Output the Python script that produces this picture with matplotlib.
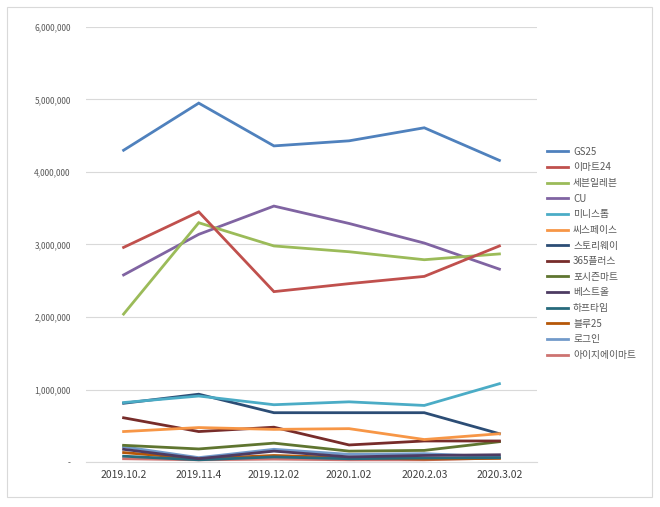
import matplotlib.pyplot as plt
from matplotlib.patches import Rectangle
from matplotlib.ticker import FuncFormatter

plt.rcParams['font.family'] = ['Noto Sans CJK KR', 'DejaVu Sans']

# 날짜 (x축)
dates = ["2019.10.2", "2019.11.4", "2019.12.02", "2020.1.02", "2020.2.03", "2020.3.02"]

# 편의점별 값
gs25 = [4300000, 4950000, 4360000, 4430000, 4610000, 4160000]
emart24 = [2960000, 3450000, 2350000, 2460000, 2560000, 2980000]
seven = [2040000, 3300000, 2980000, 2900000, 2790000, 2870000]
cu = [2580000, 3140000, 3530000, 3290000, 3020000, 2660000]
ministop = [820000, 910000, 790000, 830000, 780000, 1080000]
cspace = [420000, 475000, 450000, 460000, 310000, 390000]
storyway = [810000, 935000, 680000, 680000, 680000, 390000]
plus365 = [610000, 420000, 480000, 235000, 290000, 290000]
fourseason = [230000, 180000, 260000, 150000, 160000, 280000]
bestall = [175000, 45000, 150000, 70000, 90000, 100000]
halftime = [80000, 30000, 70000, 45000, 55000, 60000]
blue25 = [130000, 45000, 90000, 60000, 40000, 50000]
login = [210000, 60000, 175000, 105000, 115000, 70000]
igamart = [45000, 30000, 40000, 30000, 30000, 55000]

names = ["GS25", "이마트24", "세븐일레븐", "CU", "미니스톱", "씨스페이스", "스토리웨이",
         "365플러스", "포시즌마트", "베스트올", "하프타임", "블루25", "로그인", "아이지에이마트"]
series = [gs25, emart24, seven, cu, ministop, cspace, storyway,
          plus365, fourseason, bestall, halftime, blue25, login, igamart]
colors = ["#4F81BD", "#C0504D", "#9BBB59", "#8064A2", "#4BACC6", "#F79646", "#2C4D75",
          "#772C2A", "#5F7530", "#4D3B62", "#276A7C", "#B65708", "#729ACA", "#CD7371"]

fig = plt.figure(figsize=(6.6, 5.07), dpi=100)
fig.patches.append(Rectangle((7 / 660, 1 - 497 / 507), 645 / 660, 490 / 507,
                             transform=fig.transFigure, fill=False,
                             edgecolor="#D9D9D9", linewidth=0.8))
ax = fig.add_axes([86 / 660, 1 - 462 / 507, 451 / 660, 435 / 507])

x = list(range(len(dates)))
# draw bottom series first so the big ones sit on top
for name, vals, c in reversed(list(zip(names, series, colors))):
    ax.plot(x, vals, color=c, linewidth=2.0, label=name, solid_joinstyle='miter')

ax.set_xlim(-0.5, len(dates) - 0.5)
ax.set_ylim(0, 6000000)
ax.set_yticks(range(0, 6000001, 1000000))
ax.yaxis.set_major_formatter(FuncFormatter(lambda v, p: "-" if v == 0 else f"{int(v):,}"))
ax.set_xticks(x)
ax.set_xticklabels(dates)
ax.tick_params(axis='y', length=0, labelsize=6, labelcolor="#595959", pad=11)
ax.tick_params(axis='x', length=0, labelsize=7.5, labelcolor="#404040", pad=6)
ax.grid(axis='y', color="#D9D9D9", linewidth=0.8)
ax.set_axisbelow(True)
for s in ["top", "right", "left"]:
    ax.spines[s].set_visible(False)
ax.spines["bottom"].set_color("#D9D9D9")

handles, labels = ax.get_legend_handles_labels()
leg = fig.legend(handles[::-1], labels[::-1], loc="upper left",
                 bbox_to_anchor=(538 / 660, 1 - 138 / 507), frameon=False,
                 fontsize=7, handlelength=2.2, labelspacing=0.58, handletextpad=0.5)
for t in leg.get_texts():
    t.set_color("#595959")

fig.savefig("out.png", dpi=100)
